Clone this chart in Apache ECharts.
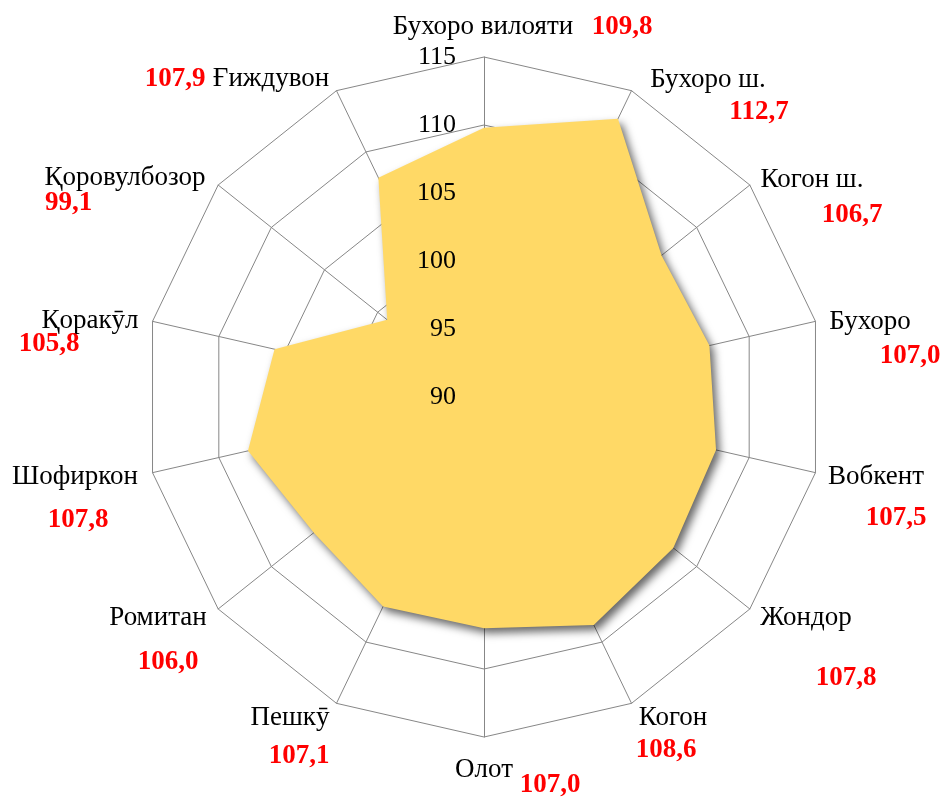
<!DOCTYPE html>
<html>
<head>
<meta charset="utf-8">
<script src="https://cdn.jsdelivr.net/npm/echarts@6/dist/echarts.min.js"></script>
<style>
  html, body { margin: 0; padding: 0; background: #fff; }
  #main { width: 946px; height: 799px; }
</style>
</head>
<body>
<div id="main"></div>
<script>
// districts, clockwise from the top
var districts = ['Бухоро вилояти', 'Бухоро ш.', 'Когон ш.', 'Бухоро', 'Вобкент', 'Жондор', 'Когон',
  'Олот', 'Пешкӯ', 'Ромитан', 'Шофиркон', 'Қоракӯл', 'Қоровулбозор', 'Ғиждувон'];
var values = [109.8, 112.7, 106.7, 107.0, 107.5, 107.8, 108.6, 107.0, 107.1, 106.0, 107.8, 105.8, 99.1, 107.9];
var scaleTicks = [90, 95, 100, 105, 110, 115];

// label placement (center of name, center of value) in px
var namePos = [
  [483, 27], [708, 80], [812, 180], [870, 322], [876, 477], [806, 618], [673, 718],
  [484, 770], [290, 718], [158, 618], [75, 477], [90, 321], [125, 178], [271, 79]
];
var valPos = [
  [622, 27], [759, 112], [852, 215], [910, 356], [896, 518], [846, 678], [666, 750],
  [550, 785], [299, 756], [168, 662], [78, 520], [49, 344], [45, 203], [175, 79]
];
var valAlign = ['center', 'center', 'center', 'center', 'center', 'center', 'center',
  'center', 'center', 'center', 'center', 'center', 'left', 'center'];

var center = [484, 397];
var radius = 340;
var serif = '"Liberation Serif", "Times New Roman", serif';

// echarts goes counter-clockwise, so flip the order after the first one
var order = [0].concat(districts.map(function (d, i) { return i; }).slice(1).reverse());

var option = {
  animation: false,
  backgroundColor: '#fff',
  radar: {
    center: center,
    radius: radius,
    shape: 'polygon',
    splitNumber: 5,
    startAngle: 90,
    axisName: { show: false },
    indicator: order.map(function (i) {
      return { name: districts[i], min: scaleTicks[0], max: scaleTicks[scaleTicks.length - 1] };
    }),
    axisLine: { lineStyle: { color: '#878787', width: 1 } },
    splitLine: { lineStyle: { color: '#878787', width: 1 } },
    splitArea: { show: false },
    axisTick: { show: false },
    axisLabel: { show: false }
  },
  grid: { left: center[0], top: center[1] - radius, width: 1, height: radius },
  xAxis: { type: 'value', show: false },
  yAxis: {
    type: 'value',
    min: scaleTicks[0],
    max: scaleTicks[scaleTicks.length - 1],
    interval: 5,
    z: 10,
    axisLine: { show: false },
    axisTick: { show: false },
    splitLine: { show: false },
    axisLabel: { margin: 28, fontSize: 26, fontFamily: serif, color: '#000' }
  },
  series: [{
    type: 'radar',
    symbol: 'none',
    z: 3,
    lineStyle: { width: 0 },
    areaStyle: {
      color: '#FFD966',
      opacity: 1,
      shadowColor: 'rgba(0,0,0,0.6)',
      shadowBlur: 8,
      shadowOffsetX: 4,
      shadowOffsetY: 5
    },
    data: [{ value: order.map(function (i) { return values[i]; }) }]
  }],
  graphic: []
};

districts.forEach(function (d, i) {
  option.graphic.push({
    type: 'text', x: namePos[i][0], y: namePos[i][1], z: 20,
    style: { text: d, font: '27px ' + serif, fill: '#000', align: 'center', verticalAlign: 'middle' }
  });
  option.graphic.push({
    type: 'text', x: valPos[i][0], y: valPos[i][1], z: 20,
    style: {
      text: values[i].toFixed(1).replace('.', ','), font: 'bold 27px ' + serif,
      fill: '#FF0000', align: valAlign[i], verticalAlign: 'middle'
    }
  });
});

var chart = echarts.init(document.getElementById('main'));
chart.setOption(option);
</script>
</body>
</html>
